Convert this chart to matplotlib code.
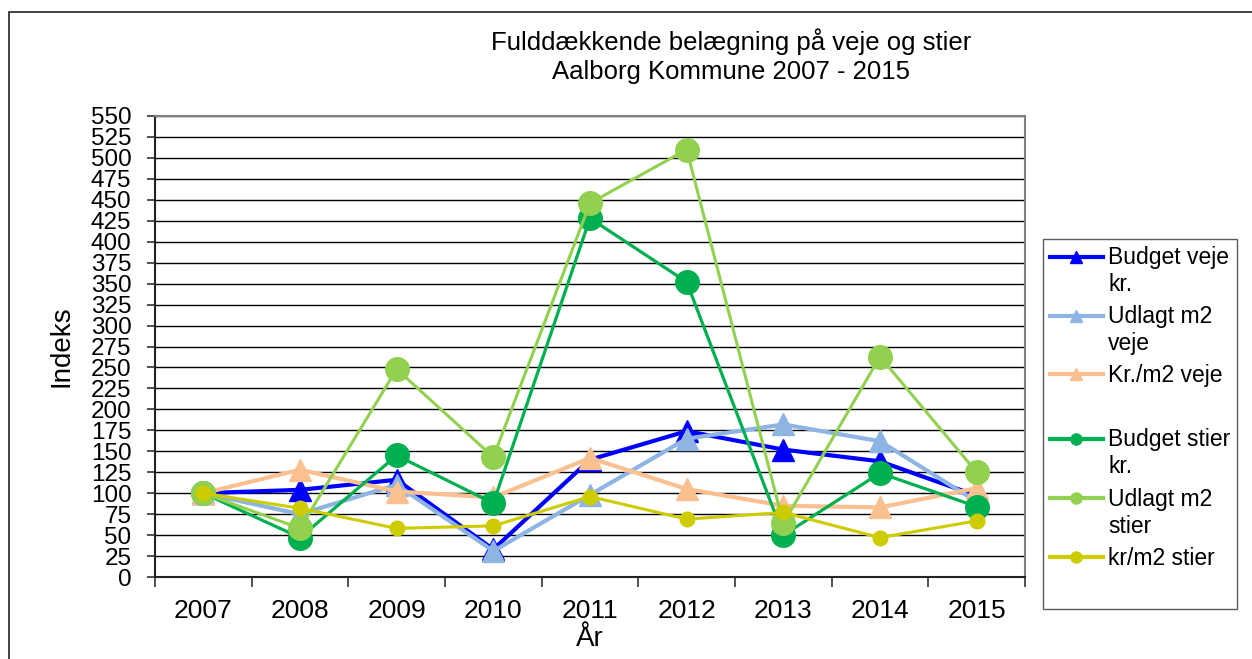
import numpy as np
import matplotlib.pyplot as plt
from matplotlib.lines import Line2D
from matplotlib.patches import Rectangle
from matplotlib.legend_handler import HandlerLine2D

plt.rcParams['font.family'] = ['Liberation Sans', 'DejaVu Sans']

# Data
years = ['2007', '2008', '2009', '2010', '2011', '2012', '2013', '2014', '2015']
budget_veje = [100, 104, 116, 33, 140, 174, 152, 138, 97]
udlagt_veje = [100, 75, 110, 31, 98, 165, 182, 162, 90]
krm2_veje = [100, 128, 102, 95, 142, 105, 85, 83, 106]
budget_stier = [100, 47, 145, 88, 428, 352, 50, 124, 84]
udlagt_stier = [100, 58, 248, 143, 446, 510, 64, 263, 125]
krm2_stier = [100, 82, 58, 61, 96, 69, 77, 47, 67]

series = [
    ('Budget veje\nkr.', budget_veje, '#0000FF', '^', 16, 3.0),
    ('Udlagt m2\nveje', udlagt_veje, '#8EB4E3', '^', 16, 3.0),
    ('Kr./m2 veje', krm2_veje, '#FAC090', '^', 16, 3.0),
    ('Budget stier\nkr.', budget_stier, '#00B050', 'o', 17, 2.3),
    ('Udlagt m2\nstier', udlagt_stier, '#92D050', 'o', 17, 2.2),
    ('kr/m2 stier', krm2_stier, '#CCCC00', 'o', 10.5, 2.2),
]


class TopHandler(HandlerLine2D):
    # put the handle next to the first line of a two-line label
    def create_artists(self, legend, orig_handle, xdescent, ydescent,
                       width, height, fontsize, trans):
        artists = super().create_artists(legend, orig_handle, xdescent, ydescent,
                                         width, height, fontsize, trans)
        if '\n' in orig_handle.get_label():
            for a in artists:
                a.set_ydata(np.asarray(a.get_ydata()) + 0.66 * fontsize)
        return artists


fig = plt.figure(figsize=(12.52, 6.59), dpi=100)
ax = fig.add_axes([155 / 1252, 1 - 577 / 659, 870 / 1252, 461 / 659])

x = np.arange(len(years))
handles = []
for label, vals, color, marker, ms, lw in series:
    ax.plot(x, vals, color=color, marker=marker, markersize=ms, linewidth=lw,
            markeredgecolor=color)
    handles.append(Line2D([], [], color=color, marker=marker, markersize=8,
                          linewidth=3, label=label))

# blank gaps in legend
handles.insert(3, Line2D([], [], color='none', label=' '))
handles.append(Line2D([], [], color='none', label=' '))

ax.set_xlim(-0.5, len(years) - 0.5)
ax.set_ylim(0, 550)
ax.set_yticks(np.arange(0, 551, 25))
ax.yaxis.grid(True, color='black', linewidth=1)
ax.set_axisbelow(True)
ax.set_xticks(x)
ax.set_xticklabels(years, fontsize=19)
ax.set_xticks(np.arange(-0.5, len(years), 1), minor=True)
ax.tick_params(axis='x', which='major', length=0, pad=16)
ax.tick_params(axis='x', which='minor', length=7, width=1.2, direction='out',
               color='#333333')
ax.tick_params(axis='y', labelsize=17.5, length=6, width=1.2, direction='out',
               pad=11, color='#333333')

ax.spines['left'].set_color('#222222')
ax.spines['bottom'].set_color('#222222')
ax.spines['top'].set_color('#808080')
ax.spines['right'].set_color('#808080')
for s in ax.spines.values():
    s.set_linewidth(1.5)

ax.set_ylabel('Indeks', fontsize=20)
ax.set_xlabel('År', fontsize=20)
ax.yaxis.set_label_coords(-0.093, 0.5)
ax.xaxis.set_label_coords(0.5, -0.106)

fig.text(731 / 1252, 1 - 42 / 659, 'Fulddækkende belægning på veje og stier',
         ha='center', va='center', fontsize=18.5)
fig.text(731 / 1252, 1 - 72 / 659, 'Aalborg Kommune 2007 - 2015',
         ha='center', va='center', fontsize=18.5)

leg = fig.legend(handles=handles, loc='upper left',
                 bbox_to_anchor=(1043 / 1252, 1 - 239 / 659), fontsize=16.5,
                 frameon=True, fancybox=False, edgecolor='#333333',
                 handlelength=2.3, handletextpad=0.25, borderpad=0.3,
                 labelspacing=0.4, borderaxespad=0,
                 handler_map={Line2D: TopHandler()})
leg.get_frame().set_linewidth(1)
for t in leg.get_texts():
    t.set_linespacing(1.22)

# outer chart border
fig.patches.append(Rectangle((9 / 1252, -0.1), 1.1, 1 - 12 / 659 + 0.1,
                             transform=fig.transFigure, fill=False,
                             edgecolor='#222222', linewidth=1.2))

fig.savefig('out.png', dpi=100)
